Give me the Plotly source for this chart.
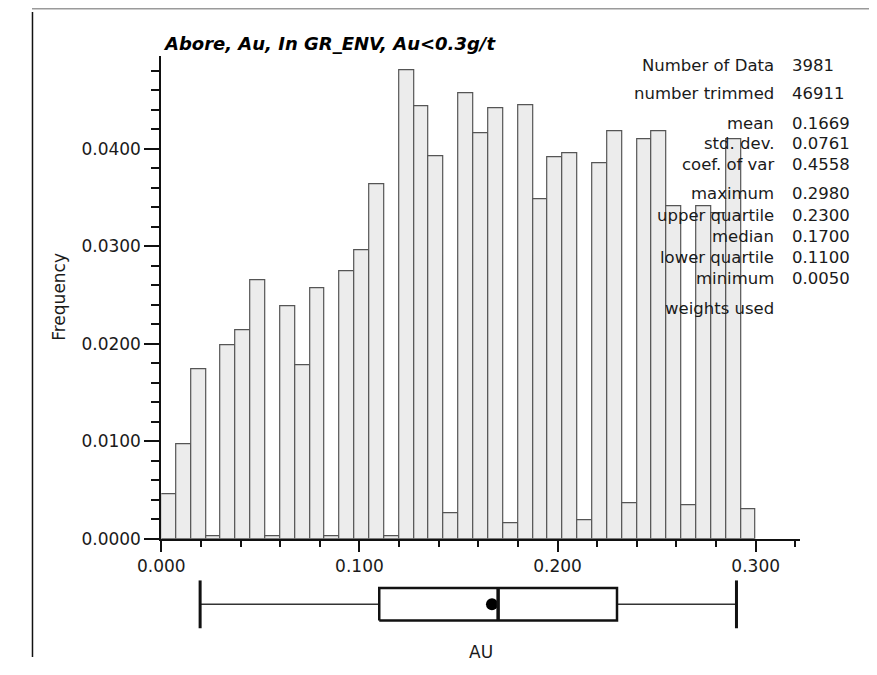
import plotly.graph_objects as go

# ---------------- data ----------------
bin_start = 0.0
bin_width = 0.0075
frequencies = [
    0.0046, 0.0097, 0.0174, 0.0003, 0.0199, 0.0214, 0.0265, 0.0003,
    0.0239, 0.0178, 0.0257, 0.0003, 0.0274, 0.0296, 0.0364, 0.0003,
    0.0481, 0.0444, 0.0392, 0.0026, 0.0457, 0.0416, 0.0442, 0.0016,
    0.0445, 0.0348, 0.0391, 0.0396, 0.0019, 0.0385, 0.0418, 0.0036,
    0.0410, 0.0418, 0.0341, 0.0034, 0.0341, 0.0334, 0.0410, 0.0030,
]

stat_labels = ["Number of Data", "number trimmed", "mean", "std. dev.", "coef. of var",
               "maximum", "upper quartile", "median", "lower quartile", "minimum",
               "weights used"]
stat_values = ["3981", "46911", "0.1669", "0.0761", "0.4558",
               "0.2980", "0.2300", "0.1700", "0.1100", "0.0050", ""]

box_whisker_low = 0.0196
box_q1 = 0.1100
box_median = 0.1700
box_mean = 0.1669
box_q3 = 0.2300
box_whisker_high = 0.2903

title_text = "Abore, Au, In GR_ENV, Au<0.3g/t"
x_title = "AU"
y_title = "Frequency"

# ---------------- layout helpers ----------------
WIN_W, WIN_H = 877, 675
OFF = 8                      # default page body margin
W, H = WIN_W - 2 * OFF, WIN_H - 2 * OFF
FONT = "DejaVu Sans"
TXT = "#1a1a1a"

def px(x):
    return (x - OFF) / W

def py(y):
    return (H - (y - OFF)) / H

bin_centers = [bin_start + (i + 0.5) * bin_width for i in range(len(frequencies))]

fig = go.Figure()

fig.add_trace(go.Bar(
    x=bin_centers, y=frequencies, width=bin_width,
    marker=dict(color="#ececec", line=dict(color="#555555", width=1.2)),
    xaxis="x", yaxis="y", showlegend=False, hoverinfo="x+y",
))

# ---- box plot (drawn with scatter traces on second axes) ----
bh = 0.673
line_col = "#111111"
fig.add_trace(go.Scatter(x=[box_whisker_low, box_q1], y=[0, 0], mode="lines",
                         line=dict(color="#333333", width=1.6), xaxis="x2", yaxis="y2",
                         showlegend=False, hoverinfo="skip"))
fig.add_trace(go.Scatter(x=[box_q3, box_whisker_high], y=[0, 0], mode="lines",
                         line=dict(color="#333333", width=1.6), xaxis="x2", yaxis="y2",
                         showlegend=False, hoverinfo="skip"))
fig.add_trace(go.Scatter(x=[box_whisker_low, box_whisker_low], y=[-1, 1], mode="lines",
                         line=dict(color=line_col, width=3), xaxis="x2", yaxis="y2",
                         showlegend=False, hoverinfo="skip"))
fig.add_trace(go.Scatter(x=[box_whisker_high, box_whisker_high], y=[-1, 1], mode="lines",
                         line=dict(color=line_col, width=3), xaxis="x2", yaxis="y2",
                         showlegend=False, hoverinfo="skip"))
fig.add_trace(go.Scatter(x=[box_q1, box_q3, box_q3, box_q1, box_q1],
                         y=[-bh, -bh, bh, bh, -bh], mode="lines", fill="toself",
                         fillcolor="white", line=dict(color=line_col, width=2.5),
                         xaxis="x2", yaxis="y2", showlegend=False, hoverinfo="skip"))
fig.add_trace(go.Scatter(x=[box_mean], y=[0], mode="markers",
                         marker=dict(color="black", size=12, symbol="circle"),
                         xaxis="x2", yaxis="y2", showlegend=False, hoverinfo="x"))
fig.add_trace(go.Scatter(x=[box_median, box_median], y=[-bh, bh], mode="lines",
                         line=dict(color=line_col, width=3.5), xaxis="x2", yaxis="y2",
                         showlegend=False, hoverinfo="skip"))

x_dom = [px(141), px(798.3)]
x_rng = [0, 0.3225]

fig.update_layout(
    width=W, height=H, autosize=False,
    margin=dict(l=0, r=0, t=0, b=0, pad=0),
    paper_bgcolor="white", plot_bgcolor="rgba(0,0,0,0)",
    font=dict(family=FONT, color=TXT, size=17),
    bargap=0,
    xaxis=dict(domain=x_dom, range=x_rng, anchor="y", showline=True, linecolor="#111111",
               linewidth=2, ticks="outside", ticklen=11, tickwidth=1.5, tickcolor="#111111",
               tick0=0, dtick=0.1, tickformat=".3f", showgrid=False, zeroline=False,
               tickfont=dict(family=FONT, size=17, color=TXT),
               minor=dict(dtick=0.02, tick0=0, ticks="outside", ticklen=6, tickwidth=1.5,
                          tickcolor="#111111", showgrid=False)),
    yaxis=dict(domain=[py(547), py(57)], range=[0, 0.0495], anchor="x", showline=True,
               linecolor="#111111", linewidth=2, ticks="outside", ticklen=15, tickwidth=1.5,
               tickcolor="#111111", tick0=0, dtick=0.01, tickformat=".4f", showgrid=False,
               zeroline=False, tickfont=dict(family=FONT, size=17, color=TXT),
               minor=dict(dtick=0.002, tick0=0, ticks="outside", ticklen=8, tickwidth=1.5,
                          tickcolor="#111111", showgrid=False)),
    xaxis2=dict(domain=x_dom, range=x_rng, anchor="y2", visible=False),
    yaxis2=dict(domain=[py(638), py(589)], range=[-1, 1], anchor="x2", visible=False),
)

annotations = [
    dict(text="<b><i>" + title_text.replace("<", "&lt;") + "</i></b>", x=px(141), y=py(44),
         xref="paper", yref="paper", xanchor="left", yanchor="middle", showarrow=False,
         font=dict(family=FONT, size=18, color="#000000")),
    dict(text=y_title, x=px(35), y=py(301), xref="paper", yref="paper", textangle=-90,
         xanchor="center", yanchor="middle", showarrow=False,
         font=dict(family=FONT, size=17, color=TXT)),
    dict(text=x_title, x=0.5, y=py(662), xref="x2 domain", yref="paper",
         xanchor="center", yanchor="middle", showarrow=False,
         font=dict(family=FONT, size=17, color=TXT)),
]

row_y = [66, 95, 125, 146, 167.3, 196.7, 218.3, 240, 261.7, 282.7, 312.7]
for lab, val, yy in zip(stat_labels, stat_values, row_y):
    annotations.append(dict(text=lab, x=px(773), y=py(yy), xref="paper", yref="paper",
                            xanchor="right", yanchor="middle", showarrow=False,
                            font=dict(family=FONT, size=16.5, color=TXT)))
    if val:
        annotations.append(dict(text=val, x=px(788), y=py(yy), xref="paper", yref="paper",
                                xanchor="left", yanchor="middle", showarrow=False,
                                font=dict(family=FONT, size=16.5, color=TXT)))

fig.update_layout(annotations=annotations)

fig.update_layout(shapes=[
    dict(type="line", xref="paper", yref="paper", x0=0, x1=1, y0=py(8.5), y1=py(8.5),
         line=dict(color="#9a9a9a", width=2)),
    dict(type="line", xref="paper", yref="paper", x0=px(8.5), x1=px(8.5), y0=py(12), y1=0,
         line=dict(color="#111111", width=1.5)),
])

fig.write_html("out.html")
